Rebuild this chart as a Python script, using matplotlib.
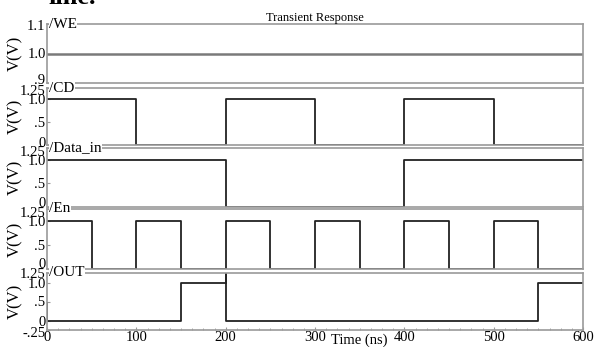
import matplotlib
matplotlib.use("Agg")
import matplotlib.pyplot as plt
from matplotlib.ticker import AutoMinorLocator
from matplotlib.transforms import ScaledTranslation

plt.rcParams['font.family'] = ['Liberation Serif', 'DejaVu Serif']

# signal data (time in ns, level in V)
names = ["/WE", "/CD", "/Data_in", "/En", "/OUT"]
t_we = [0, 600]
v_we = [1.0, 1.0]
t_cd = [0, 100, 100, 200, 200, 300, 300, 400, 400, 500, 500, 600]
v_cd = [1.0, 1.0, 0, 0, 1.0, 1.0, 0, 0, 1.0, 1.0, 0, 0]
t_data = [0, 200, 200, 400, 400, 600]
v_data = [1.0, 1.0, 0, 0, 1.0, 1.0]
t_en = [0, 50, 50, 100, 100, 150, 150, 200, 200, 250, 250, 300, 300,
        350, 350, 400, 400, 450, 450, 500, 500, 550, 550, 600]
v_en = [1.0, 1.0, 0, 0, 1.0, 1.0, 0, 0, 1.0, 1.0, 0, 0, 1.0,
        1.0, 0, 0, 1.0, 1.0, 0, 0, 1.0, 1.0, 0, 0]
t_out = [0, 0, 0, 150, 150, 200, 200, 200, 550, 550, 600]
v_out = [0.45, 0, 0, 0, 1.0, 1.0, 1.25, 0, 0, 1.0, 1.0]

series = [(t_we, v_we), (t_cd, v_cd), (t_data, v_data), (t_en, v_en), (t_out, v_out)]
ylims = [(0.9, 1.1), (0, 1.25), (0, 1.25), (0, 1.25), (-0.25, 1.25)]
yticks = [[0.9, 1.0, 1.1], [0, 0.5, 1.0, 1.25], [0, 0.5, 1.0, 1.25],
          [0, 0.5, 1.0, 1.25], [-0.25, 0, 0.5, 1.0, 1.25]]
ytlabels = [[".9", "1.0", "1.1"], ["0", ".5", "1.0", "1.25"], ["0", ".5", "1.0", "1.25"],
            ["0", ".5", "1.0", "1.25"], ["-.25", "0", ".5", "1.0", "1.25"]]
xticks = [0, 100, 200, 300, 400, 500, 600]

W, H = 605, 347
fig = plt.figure(figsize=(W / 100, H / 100), dpi=100)

# panel top/bottom in pixels
boxes = [(24, 83), (88, 145), (148, 207), (209, 269), (273, 330)]
left, right = 47, 583
frame_col = '#9a9a9a'
# pixel nudges of the end tick labels (bottom label up, top label down)
nudge_bot = [4, 3, 5, 6, -2]
nudge_top = [1, 2, 3, 3, 0]

fig.text(48 / W, 1 - 4 / H, "line.", fontsize=19, fontweight='bold', va='baseline')

axes = []
for i, (top, bot) in enumerate(boxes):
    ax = fig.add_axes([left / W, 1 - bot / H, (right - left) / W, (bot - top) / H])
    t, v = series[i]
    if i == 0:
        ax.plot(t, v, color='#7a7a7a', lw=1.8)
    else:
        ax.plot(t, v, color='#222222', lw=1.3)
    ax.set_xlim(0, 600)
    ax.set_ylim(*ylims[i])
    ax.set_yticks(yticks[i])
    ax.set_yticklabels(ytlabels[i], fontsize=10.5)
    ax.set_xticks(xticks)
    for s in ax.spines.values():
        s.set_color(frame_col)
        s.set_linewidth(1.2)
    ax.tick_params(axis='y', direction='in', length=2, pad=1, color=frame_col)
    ax.tick_params(axis='x', direction='in', length=2, color=frame_col)
    if i < 4:
        ax.tick_params(axis='x', labelbottom=False, length=0)
    else:
        ax.xaxis.set_minor_locator(AutoMinorLocator(8))
        ax.tick_params(axis='x', which='minor', direction='in', length=1.5, color=frame_col)
        ax.tick_params(axis='x', labelsize=10.5, pad=1)
    labs = ax.get_yticklabels()
    labs[0].set_transform(labs[0].get_transform()
                          + ScaledTranslation(0, nudge_bot[i] / 100, fig.dpi_scale_trans))
    labs[-1].set_transform(labs[-1].get_transform()
                           + ScaledTranslation(0, -nudge_top[i] / 100, fig.dpi_scale_trans))
    ax.set_ylabel("V(V)", fontsize=12, labelpad=0)
    ax.yaxis.set_label_coords(-0.045, 0.5)
    ax.text(0.004, 1.0, names[i], transform=ax.transAxes, fontsize=11,
            va='center', ha='left', zorder=5,
            bbox=dict(facecolor='white', edgecolor='none', pad=0.2))
    axes.append(ax)

axes[0].set_title("Transient Response", fontsize=9, pad=1)
axes[-1].text(0.582, -0.07, "Time (ns)", transform=axes[-1].transAxes,
              fontsize=10.5, ha='center', va='top')

fig.savefig("out.png", dpi=100)
